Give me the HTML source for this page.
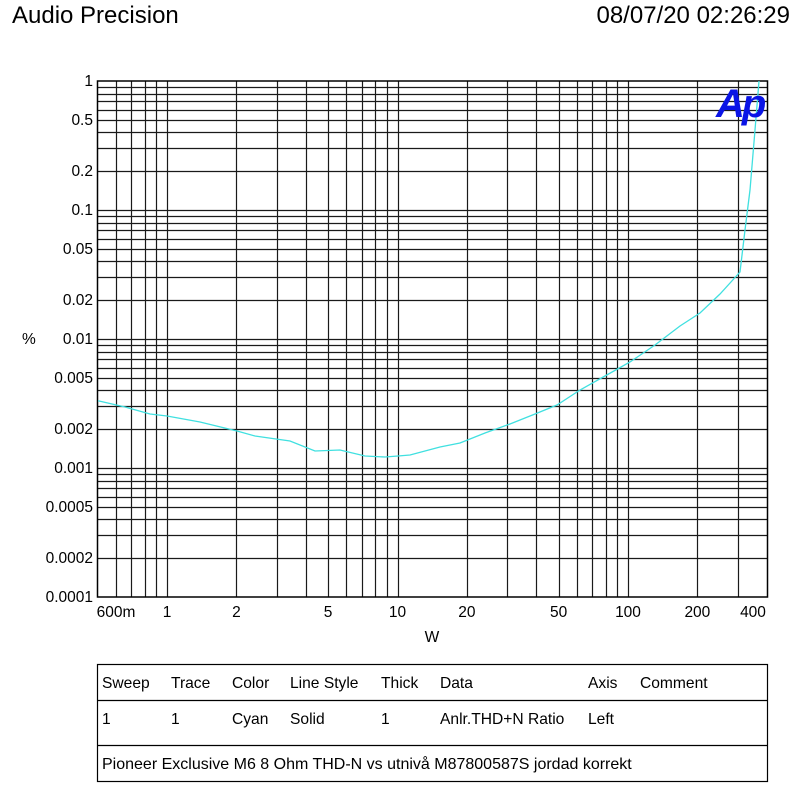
<!DOCTYPE html>
<html><head><meta charset="utf-8"><style>
html,body{margin:0;padding:0;background:#fff;}
body{width:800px;height:798px;overflow:hidden;}
svg{display:block;font-family:"Liberation Sans",Arial,sans-serif;}
</style></head><body>
<svg id="s" width="800" height="798" xmlns="http://www.w3.org/2000/svg">
<text x="12" y="23" font-size="24">Audio Precision</text>
<text x="790" y="23" font-size="24" text-anchor="end">08/07/20 02:26:29</text>
<g id="grid"></g>
<rect x="97.5" y="81" width="670" height="516" fill="none" stroke="#000" stroke-width="1.5"/>
<g id="lab" font-size="15.5"></g>
<text x="22" y="344" font-size="15.5">%</text>
<text x="432" y="642" font-size="15.5" text-anchor="middle">W</text>
<polyline fill="none" stroke="#40e0e0" stroke-width="1.3" points="98,400.7 125,407 150,414 167,416 200,422 237,431 255,436 290,441 315,451 340,450 365,456 385,457 398,456 410,455 440,447 460,443 485,433 510,424 535,414 557,405 580,390 605,376 630,362 655,345 680,326 700,313 720,294 740,272 745,230 750,190 755,130 759,81"/>
<text x="716" y="117" font-size="40" font-weight="bold" font-style="italic" fill="#0a14e6" letter-spacing="-3">Ap</text>
<rect x="97.5" y="664.5" width="670" height="117" fill="none" stroke="#000" stroke-width="1.2"/>
<line x1="97.5" y1="700.5" x2="767.5" y2="700.5" stroke="#000" stroke-width="1.2"/>
<line x1="97.5" y1="745.5" x2="767.5" y2="745.5" stroke="#000" stroke-width="1.2"/>
<g font-size="15.6">
<text x="102" y="688">Sweep</text><text x="171" y="688">Trace</text><text x="232" y="688">Color</text><text x="290" y="688">Line Style</text><text x="381" y="688">Thick</text><text x="440" y="688">Data</text><text x="588" y="688">Axis</text><text x="640" y="688">Comment</text>
<text x="102" y="724">1</text><text x="171" y="724">1</text><text x="232" y="724">Cyan</text><text x="290" y="724">Solid</text><text x="381" y="724">1</text><text x="440" y="724">Anlr.THD+N Ratio</text><text x="588" y="724">Left</text>
<text x="102" y="769" font-size="16">Pioneer Exclusive M6 8 Ohm THD-N vs utnivå M87800587S jordad korrekt</text>
</g>
</svg>
<script>
var ns="http://www.w3.org/2000/svg",g=document.getElementById('grid'),lab=document.getElementById('lab');
function X(v){return 167+Math.log10(v)*230.5;}
function Y(v){return 81+(-Math.log10(v))*129;}
function ln(x1,y1,x2,y2){var l=document.createElementNS(ns,'line');l.setAttribute('x1',x1);l.setAttribute('y1',y1);l.setAttribute('x2',x2);l.setAttribute('y2',y2);l.setAttribute('stroke','#1a1a1a');l.setAttribute('stroke-width','1.2');g.appendChild(l);}
function tx(x,y,s,a){var t=document.createElementNS(ns,'text');t.setAttribute('x',x);t.setAttribute('y',y);t.setAttribute('text-anchor',a);t.textContent=s;lab.appendChild(t);}
var xs=[0.6,0.7,0.8,0.9];
[1,10,100].forEach(function(d){for(var i=1;i<=9;i++)xs.push(i*d);});
xs=xs.filter(function(v){return v<=300;}).filter(function(v){return !(v>100&&v!=200&&v!=300);});
xs.forEach(function(v){var x=Math.round(X(v))+0.5;ln(x,81,x,597);});
[0.0001,0.001,0.01,0.1].forEach(function(d){for(var i=1;i<=9;i++){var v=i*d;if(v<=1.0001&&v>0.0001){var y=Math.round(Y(v))+0.5;ln(97.5,y,767.5,y);}}});
[[1,'1'],[0.5,'0.5'],[0.2,'0.2'],[0.1,'0.1'],[0.05,'0.05'],[0.02,'0.02'],[0.01,'0.01'],[0.005,'0.005'],[0.002,'0.002'],[0.001,'0.001'],[0.0005,'0.0005'],[0.0002,'0.0002'],[0.0001,'0.0001']].forEach(function(p){tx(93,Y(p[0])+5,p[1],'end');});
[[0.6,'600m',116],[1,'1'],[2,'2'],[5,'5'],[10,'10'],[20,'20'],[50,'50'],[100,'100'],[200,'200'],[400,'400',753]].forEach(function(p){tx(p[2]||X(p[0]),617,p[1],'middle');});
</script>
</body></html>
